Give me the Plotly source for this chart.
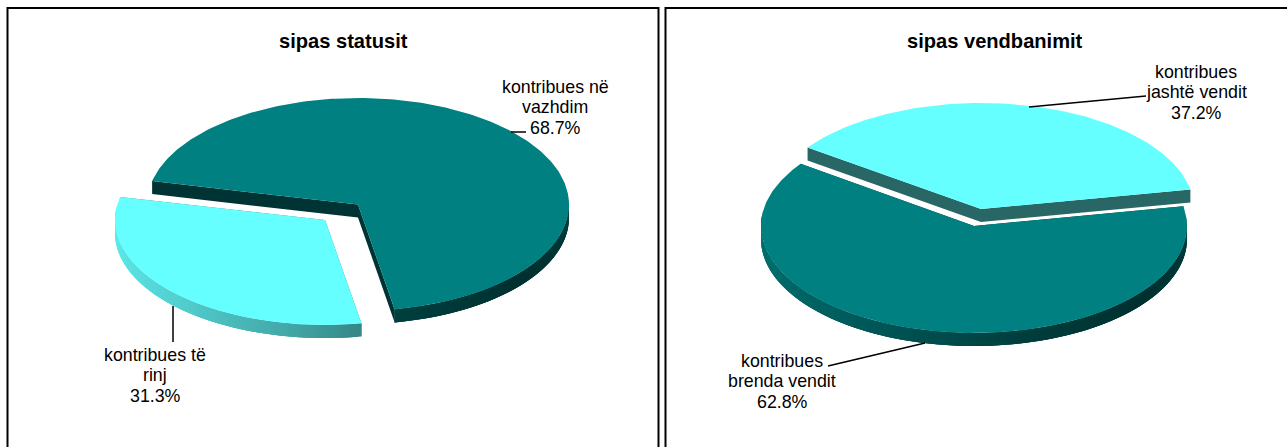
import numpy as np
import plotly.graph_objects as go

# ---- data ----
status_labels = ["kontribues të<br>rinj", "kontribues në<br>vazhdim"]
status_values = [31.3, 68.7]
residence_labels = ["kontribues<br>jashtë vendit", "kontribues<br>brenda vendit"]
residence_values = [37.2, 62.8]
titles = ["sipas statusit", "sipas vendbanimit"]

TEAL = (0, 128, 128)
CYAN = (102, 255, 255)
W, H = 1287, 447
DEPTH = 13

# rim shading: angle clockwise from 12 o'clock -> brightness factor
SHADE_A = [90, 110, 130, 165, 190, 225, 250, 270]
SHADE_TEAL = [0.48, 0.42, 0.38, 0.48, 0.60, 0.76, 0.84, 0.88]
SHADE_CYAN = [0.50, 0.45, 0.45, 0.50, 0.66, 0.82, 0.89, 0.93]


def shade(color, factor):
    return "rgb(%d,%d,%d)" % tuple(int(c * factor) for c in color)


def rgb(color):
    return "rgb(%d,%d,%d)" % color


def poly(fig, xs, ys, color, lw=0.0):
    fig.add_trace(go.Scatter(x=xs, y=ys, mode="lines", fill="toself", fillcolor=color,
                             line=dict(color=color, width=lw), hoverinfo="skip",
                             showlegend=False))


def wedge(fig, cx, cy, rx, ry, a0, a1, color, shades, side):
    th = np.radians(np.linspace(a0, a1, int(abs(a1 - a0)) + 1))
    ex, ey = cx + rx * np.sin(th), cy - ry * np.cos(th)
    # cut faces
    poly(fig, [ex[0], cx, cx, ex[0]], [ey[0], cy, cy + DEPTH, ey[0] + DEPTH], side)
    poly(fig, [ex[-1], cx, cx, ex[-1]], [ey[-1], cy, cy + DEPTH, ey[-1] + DEPTH], side)
    # rim: short shaded pieces, each overlapping the next so no seams show
    for k in range(len(th) - 1):
        t = th[k:k + 4]
        deg = np.degrees(th[k]) % 360
        if not 85 <= deg <= 275:
            continue
        f = float(np.interp(deg, SHADE_A, shades))
        x = cx + rx * np.sin(t)
        y = cy - ry * np.cos(t)
        poly(fig, list(x) + list(x[::-1]), list(y) + list(y[::-1] + DEPTH), shade(color, f))
    # top
    poly(fig, [cx] + list(ex) + [cx], [cy] + list(ey) + [cy], rgb(color))


def sweep(values, start):
    cum = np.cumsum([0] + list(values)) / sum(values) * 360
    return [(start + cum[i], start + cum[i + 1]) for i in range(len(values))]


fig = go.Figure()

# left pie: values run clockwise from the lower edge of the big slice
s = sweep(status_values, 170.0)
wedge(fig, 325, 220, 210, 105, *s[0], CYAN, SHADE_CYAN, "#3f8080")
wedge(fig, 358, 204.5, 211, 106.5, *s[1], TEAL, SHADE_TEAL, "#003333")

# right pie
r = sweep(residence_values, -54.5)
wedge(fig, 974, 226, 213, 107, *r[1], TEAL, SHADE_TEAL, "#003333")
wedge(fig, 981, 209, 213, 106, *r[0], CYAN, SHADE_CYAN, "#296666")

# leader lines
leaders = [((511, 526), (132, 132)), ((173, 173), (306, 342)),
           ((1029, 1146), (107, 96)), ((925, 828), (343, 366))]
for lx, ly in leaders:
    fig.add_trace(go.Scatter(x=list(lx), y=list(ly), mode="lines",
                             line=dict(color="black", width=1.5), hoverinfo="skip",
                             showlegend=False))

FONT = "Liberation Sans, Arial, sans-serif"
LINE = 20.5
notes = [
    (555, 107, f"{status_labels[1]}<br>{status_values[1]}%"),
    (155, 375, f"{status_labels[0]}<br>{status_values[0]}%"),
    (1196, 92, f"{residence_labels[0]}<br>{residence_values[0]}%"),
    (782, 381, f"{residence_labels[1]}<br>{residence_values[1]}%"),
]
annotations = []
for x, y, t in notes:
    parts = t.split("<br>")
    for i, part in enumerate(parts):
        annotations.append(dict(x=x, y=y + (i - (len(parts) - 1) / 2) * LINE, text=part,
                                showarrow=False, xanchor="center", yanchor="middle",
                                font=dict(family=FONT, size=17.8, color="black")))
for x, t in zip((343.5, 995), titles):
    annotations.append(dict(x=x, y=41, text=f"<b>{t}</b>", showarrow=False, xanchor="center",
                            yanchor="middle", font=dict(family=FONT, size=20.1, color="black")))

frames = [dict(type="rect", xref="x", yref="y", x0=x0, x1=x1, y0=8, y1=460,
               line=dict(color="black", width=2), fillcolor="rgba(0,0,0,0)", layer="below")
          for x0, x1 in ((7.5, 658.5), (665.5, 1300))]

fig.update_layout(
    width=W, height=H, margin=dict(l=0, r=0, t=0, b=0),
    paper_bgcolor="white", plot_bgcolor="white",
    xaxis=dict(range=[0, W], visible=False, fixedrange=True),
    yaxis=dict(range=[H, 0], visible=False, fixedrange=True),
    annotations=annotations, shapes=frames, showlegend=False,
)
fig.write_html("out.html", config=dict(displayModeBar=False),
               post_script="document.body.style.margin='0';")
